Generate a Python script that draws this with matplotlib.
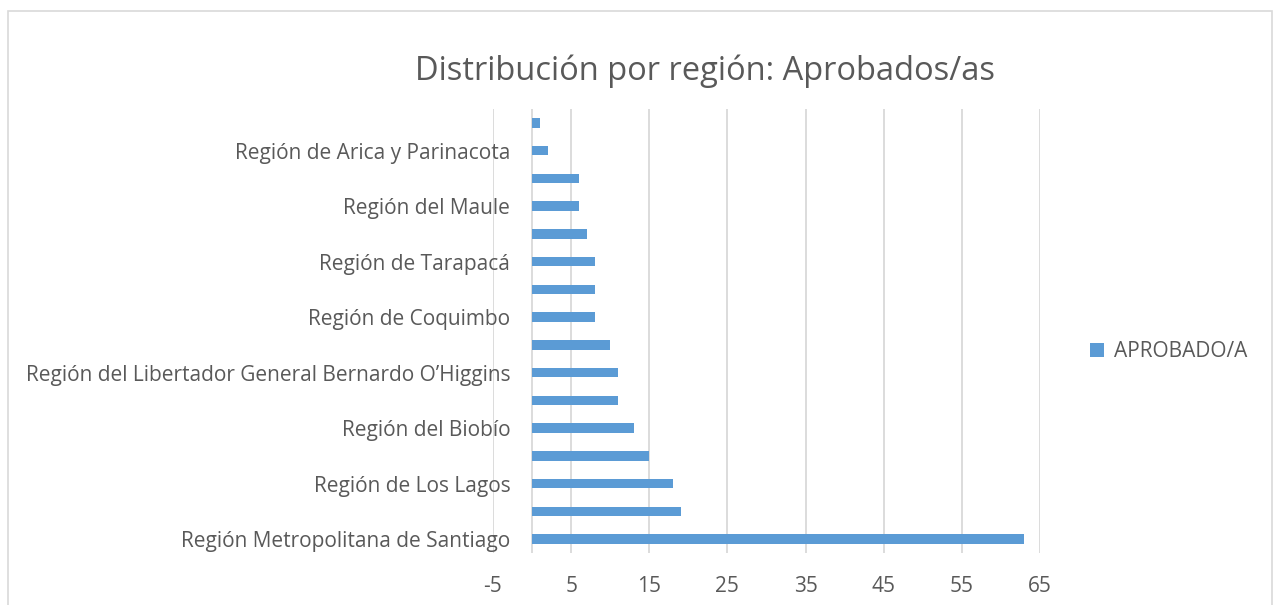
import matplotlib.pyplot as plt
from matplotlib.patches import Rectangle

# datos -----------------------------------------------------------------
regiones = [
    "Región Metropolitana de Santiago",
    "Región de Valparaíso",
    "Región de Los Lagos",
    "Región de La Araucanía",
    "Región del Biobío",
    "Región de Los Ríos",
    "Región del Libertador General Bernardo O’Higgins",
    "Región de Antofagasta",
    "Región de Coquimbo",
    "Región de Ñuble",
    "Región de Tarapacá",
    "Región de Atacama",
    "Región del Maule",
    "Región de Magallanes",
    "Región de Arica y Parinacota",
    "Región de Aysén",
]
aprobados = [63, 19, 18, 15, 13, 11, 11, 10, 8, 8, 8, 7, 6, 6, 2, 1]
ticks_x = [-5, 5, 15, 25, 35, 45, 55, 65]

azul = '#5b9bd5'
gris_txt = '#595959'
gris_linea = '#d9d9d9'

plt.rcParams['font.family'] = ['Open Sans', 'DejaVu Sans']

fig = plt.figure(figsize=(12.75, 6.05), dpi=100)
# marco del gráfico
fig.patches.append(Rectangle((8 / 1275, -0.1), 1264 / 1275, 1.1 - 11 / 605,
                             transform=fig.transFigure, fill=False,
                             edgecolor=gris_linea, lw=1.2))

ax = fig.add_axes([493 / 1275, 1 - 553 / 605, 547 / 1275, 444 / 605])
pos = list(range(len(regiones)))
ax.barh(pos, aprobados, height=0.34, color=azul, label='APROBADO/A', zorder=3)
ax.set_xlim(-5, 65)
ax.set_ylim(-0.5, len(regiones) - 0.5)

ax.set_xticks(ticks_x)
ax.set_xticklabels([str(t) for t in ticks_x], fontsize=15, color=gris_txt)
ax.set_yticks(pos)
ax.set_yticklabels([r if i % 2 == 0 else '' for i, r in enumerate(regiones)],
                   fontsize=15, color=gris_txt)
ax.tick_params(length=0)
ax.tick_params(axis='y', pad=-12.5)
ax.tick_params(axis='x', pad=16.5)

for t in ticks_x:
    ax.axvline(t, color=gris_linea, lw=1.3, zorder=0)
ax.axvline(0, color=gris_linea, lw=1.3, zorder=1)
for s in ax.spines.values():
    s.set_visible(False)

fig.text(705 / 1275, 1 - 71 / 605, 'Distribución por región: Aprobados/as',
         ha='center', va='center', fontsize=23.5, color=gris_txt)

ax.legend(loc='center left', bbox_to_anchor=(1.073, 0.454), frameon=False,
          fontsize=15, handlelength=0.65, handleheight=0.65, handletextpad=0.5,
          labelcolor=gris_txt, borderpad=0)

fig.savefig('out.png', dpi=100)
